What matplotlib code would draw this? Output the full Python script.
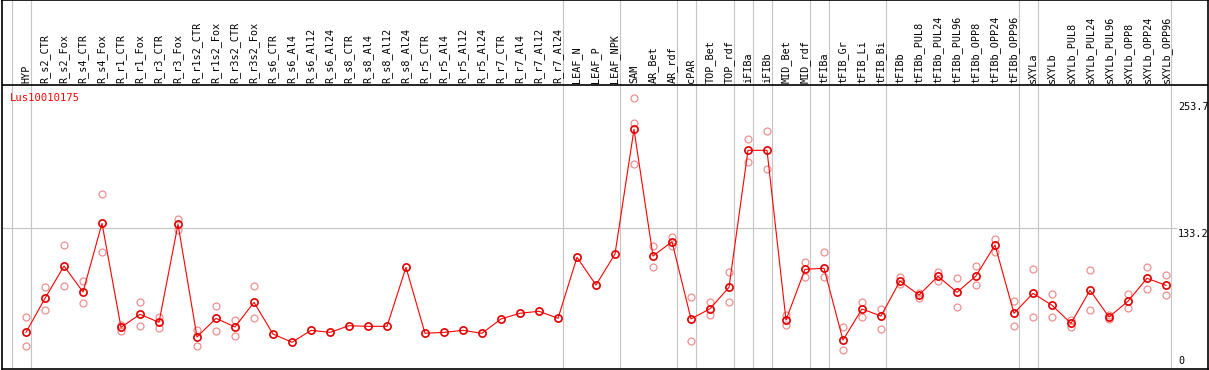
import numpy as np
import matplotlib
matplotlib.use("Agg")
import matplotlib.pyplot as plt

cats = ["HYP", "R_s2_CTR", "R_s2_Fox", "R_s4_CTR", "R_s4_Fox", "R_r1_CTR", "R_r1_Fox",
        "R_r3_CTR", "R_r3_Fox", "R_r1s2_CTR", "R_r1s2_Fox", "R_r3s2_CTR", "R_r3s2_Fox",
        "R_s6_CTR", "R_s6_Al4", "R_s6_Al12", "R_s6_Al24", "R_s8_CTR", "R_s8_Al4", "R_s8_Al12",
        "R_s8_Al24", "R_r5_CTR", "R_r5_Al4", "R_r5_Al12", "R_r5_Al24", "R_r7_CTR", "R_r7_Al4",
        "R_r7_Al12", "R_r7_Al24", "LEAF_N", "LEAF_P", "LEAF_NPK", "SAM", "AR_Bet", "AR_rdf",
        "cPAR", "TOP_Bet", "TOP_rdf", "iFIBa", "iFIBb", "MID_Bet", "MID_rdf", "tFIBa",
        "tFIB_Gr", "tFIB_Li", "tFIB_Bi", "tFIBb", "tFIBb_PUL8", "tFIBb_PUL24", "tFIBb_PUL96",
        "tFIBb_OPP8", "tFIBb_OPP24", "tFIBb_OPP96", "sXYLa", "sXYLb", "sXYLb_PUL8",
        "sXYLb_PUL24", "sXYLb_PUL96", "sXYLb_OPP8", "sXYLb_OPP24", "sXYLb_OPP96"]

mean = [34.3, 66.6, 97.2, 72.6, 137.7, 39.1, 51.4, 43.8, 136.8, 29.9, 47.6, 39.4, 62.8,
        32.7, 24.9, 36.2, 34.3, 40.6, 40.0, 40.0, 96.0, 33.4, 34.3, 36.2, 33.4, 47.0, 52.4,
        54.3, 47.6, 105.5, 79.2, 108.6, 226.9, 106.7, 120.3, 47.0, 56.7, 77.0, 207.0, 207.0,
        46.0, 94.1, 95.1, 27.0, 56.5, 49.8, 83.0, 69.7, 87.5, 72.3, 87.8, 117.2, 52.4,
        71.3, 60.0, 42.9, 74.2, 48.9, 63.8, 85.6, 78.9]

nan = np.nan
rep_a = [48.6, 77.0, 117.2, 83.0, 165.3, 41.3, 62.8, 48.9, 141.8, 36.8, 59.0, 46.0, 78.6,
         nan, nan, nan, nan, nan, nan, nan, nan, nan, nan, nan, nan, nan, nan, nan, nan,
         nan, nan, nan, 256.4, 116.2, 125.0, 67.6, 62.8, 91.3, 217.4, 225.0, 50.8, 100.8,
         110.2, 39.1, 62.8, 56.5, 86.5, 71.3, 91.3, 85.6, 97.0, 122.6, 64.0, 94.1, 70.7,
         46.0, 93.2, 51.0, 70.7, 96.3, 88.4]
rep_b = [21.1, 55.5, 78.3, 62.1, 110.2, 35.9, 40.0, 38.7, 131.4, 21.6, 35.9, 31.1, 47.6,
         nan, nan, nan, nan, nan, nan, nan, nan, nan, nan, nan, nan, nan, nan, nan, nan,
         nan, nan, nan, 193.7, 96.3, 116.5, 26.1, 50.5, 62.8, 195.6, 189.0, 41.3, 86.5,
         87.1, 17.6, 49.2, 37.5, 79.9, 66.6, 83.3, 58.1, 79.2, 110.8, 40.6, 48.6, 48.6,
         39.7, 55.5, 46.7, 57.4, 75.7, 69.4]
rep_c = [nan] * 32 + [232.6] + [nan] * 28

# group separators sit just after these category indices
sep_after = [-1, 0, 28, 31, 34, 35, 37, 38, 39, 41, 42, 45, 52, 53, 60]

gene = "Lus10010175"
ymax_lab = 253.7
ymid_lab = 133.2

W, H = 1209, 370
px = 19.0          # pixels per category
x0 = 26.0          # pixel of first category
ypx = 1.054        # pixels per unit
ybot = 368.5       # pixel row of zero

fig = plt.figure(figsize=(W / 100, H / 100), dpi=100)
ax = fig.add_axes([2 / W, (H - ybot) / H, 1206 / W, ybot / H])
ax.set_xlim((2 - x0) / px, (1208 - x0) / px)
ax.set_ylim(0, ybot / ypx)
for s in ax.spines.values():
    s.set_color("black")
    s.set_linewidth(1.2)
ax.set_xticks([])
ax.set_yticks([])

x = np.arange(len(cats))
mono = "DejaVu Sans Mono"
fs = 7.3

for i in sep_after:
    ax.axvline(i + 0.25, color="#c4c4c4", lw=0.8, zorder=1)

head = (ybot - 85) / ypx
ax.axhline(head, color="black", lw=1.2, zorder=2)
ax.hlines(ymid_lab, ax.get_xlim()[0], (1177 - x0) / px, color="#c4c4c4", lw=0.8, zorder=1)

for i, c in enumerate(cats):
    ax.text(i, head + 1.6, c, rotation=90, ha="center", va="bottom",
            family=mono, fontsize=fs, color="black")

ax.text((10 - x0) / px, (ybot - 98) / ypx, gene, color="red", family=mono,
        fontsize=fs + 0.3, va="center", ha="left")

xl = (1178 - x0) / px
ax.text(xl, ymax_lab - 0.5, "%.1f" % ymax_lab, family=mono, fontsize=fs, va="top", ha="left")
ax.text(xl, ymid_lab - 0.5, "%.1f" % ymid_lab, family=mono, fontsize=fs, va="top", ha="left")
ax.text(xl, 2.5, "0", family=mono, fontsize=fs, va="bottom", ha="left")

for r in (rep_a, rep_b, rep_c):
    ax.plot(x, r, ls="none", marker="o", ms=5, mfc="none", mec="#ee9090", mew=0.9, zorder=3)

ax.plot(x, mean, color="red", lw=0.8, zorder=4)
ax.plot(x, mean, ls="none", marker="o", ms=5.2, mfc="none", mec="#e00000", mew=1.2, zorder=5)

fig.savefig("out.png", dpi=100)
